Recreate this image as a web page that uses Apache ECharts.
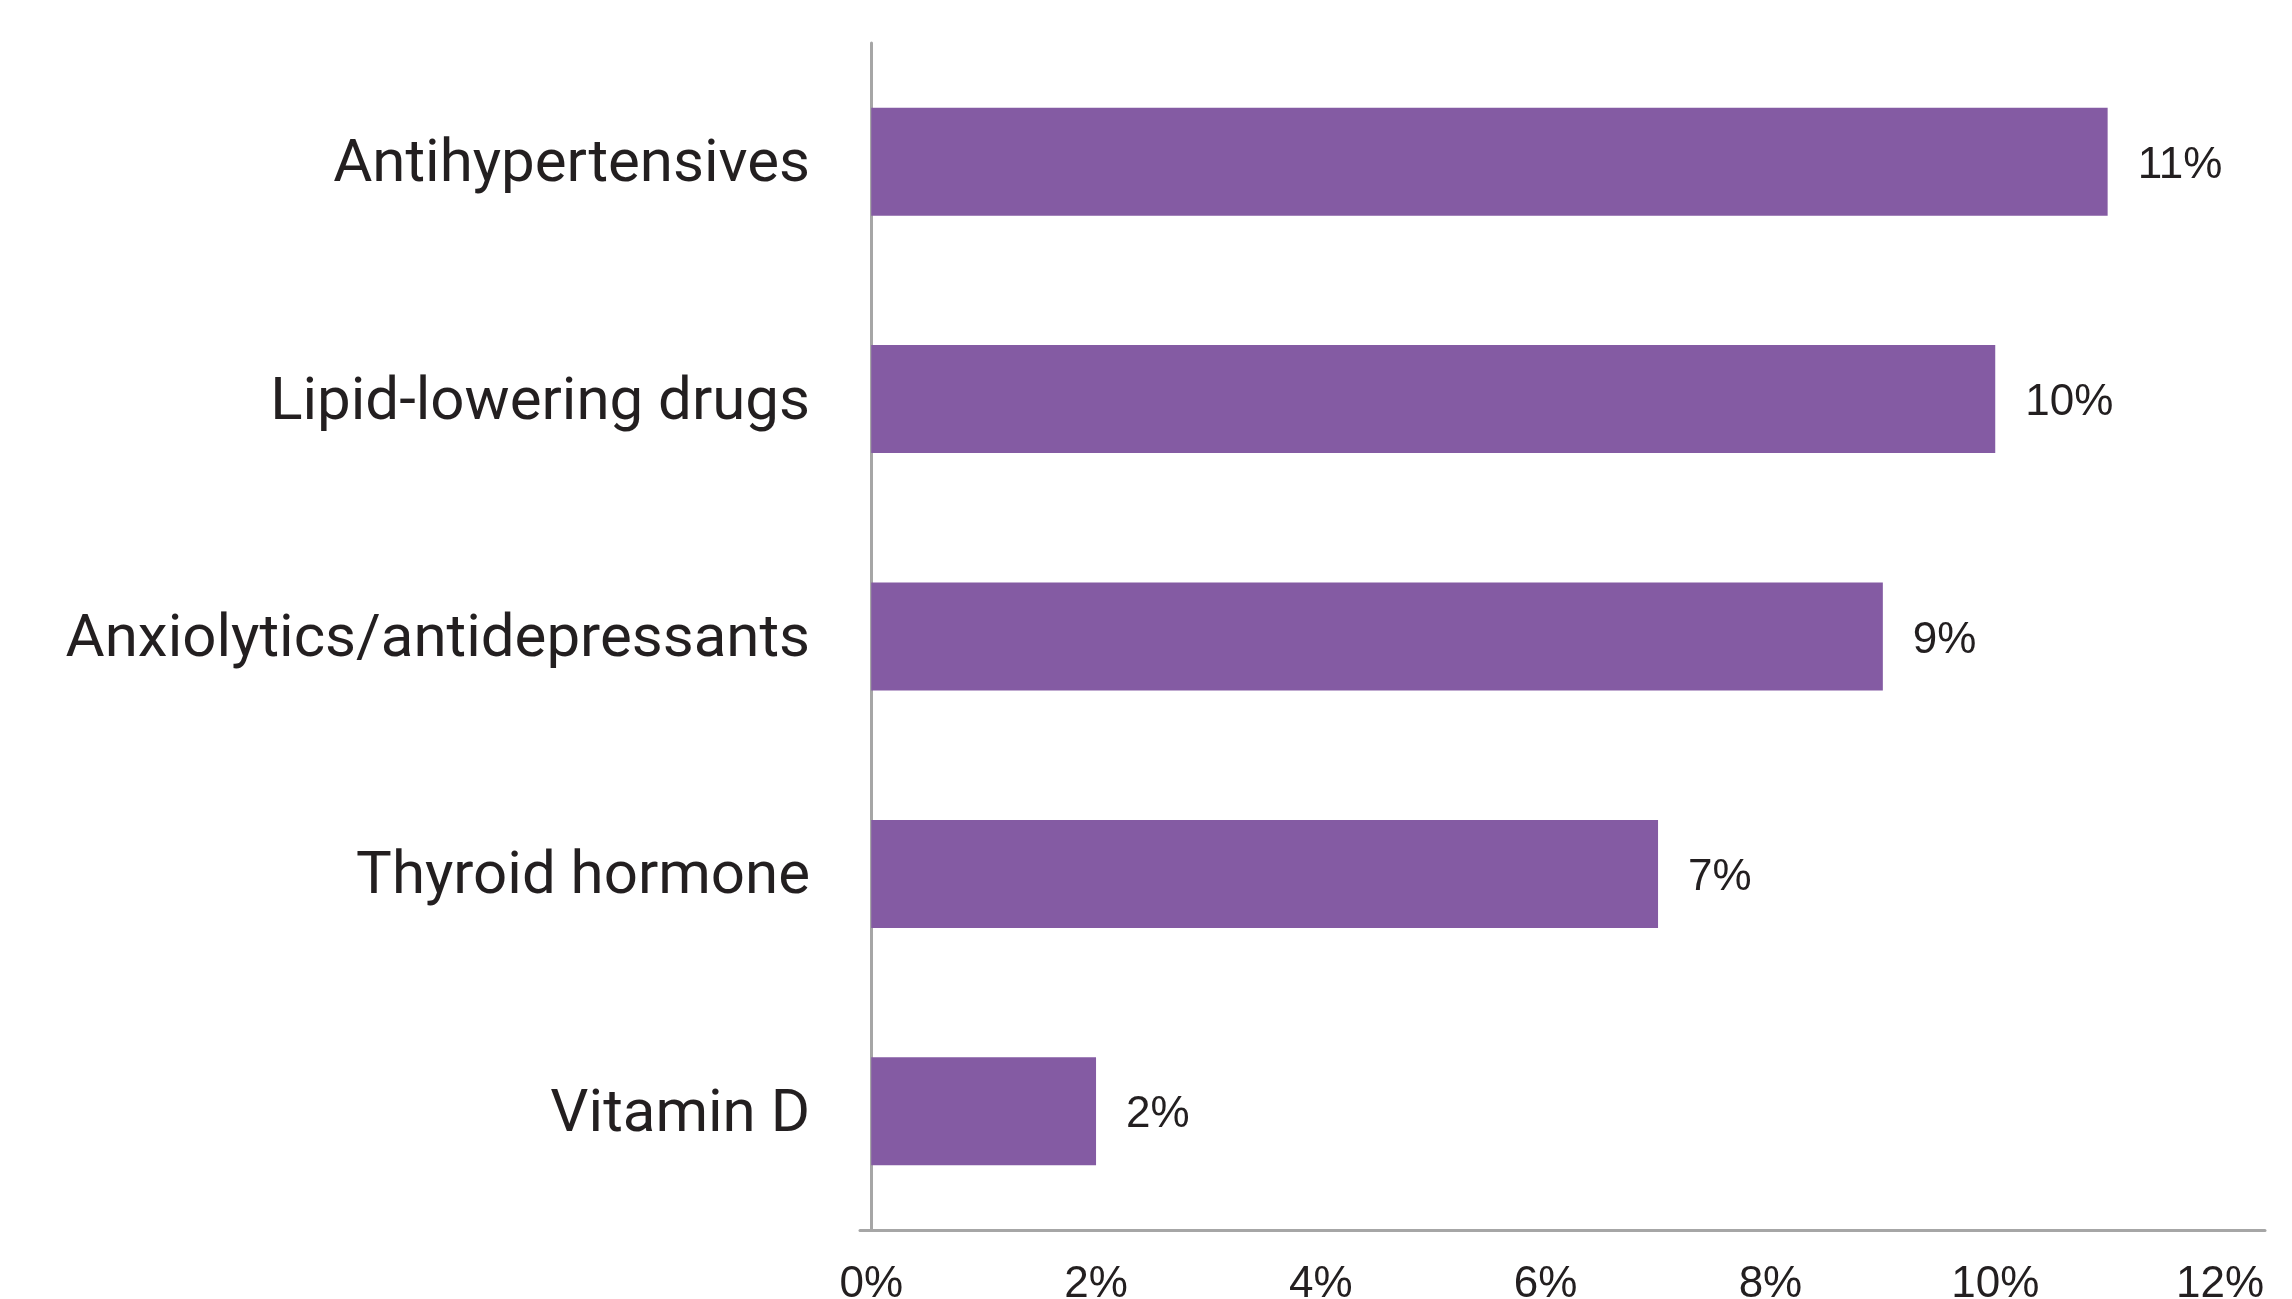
<!DOCTYPE html>
<html>
<head>
<meta charset="utf-8">
<script src="https://cdn.jsdelivr.net/npm/echarts@6/dist/echarts.min.js"></script>
<style>
html,body{margin:0;padding:0;background:#fff;}
#chart{width:2292px;height:1299px;}
</style>
</head>
<body>
<div id="chart"></div>
<script>
const categories = ["Antihypertensives", "Lipid-lowering drugs", "Anxiolytics/antidepressants", "Thyroid hormone", "Vitamin D"];
const values = [11, 10, 9, 7, 2];
const tickValues = [0, 2, 4, 6, 8, 10, 12];

const chart = echarts.init(document.getElementById('chart'));
chart.setOption({
  backgroundColor: '#ffffff',
  animation: false,
  grid: { left: 860, right: 27, top: 43, bottom: 69, containLabel: false, outerBoundsMode: 'none' },
  xAxis: {
    type: 'value',
    min: -0.1,
    max: 12.4,
    splitLine: { show: false },
    axisTick: { show: false },
    axisLine: { show: true, lineStyle: { color: '#a6a6a6', width: 3 } },
    axisLabel: {
      customValues: tickValues,
      formatter: v => v + '%',
      margin: 33,
      fontFamily: 'Liberation Sans',
      fontSize: 44,
      color: '#231f20'
    }
  },
  yAxis: {
    type: 'category',
    data: categories,
    inverse: true,
    axisTick: { show: false },
    axisLine: { show: true, onZero: true, lineStyle: { color: '#a6a6a6', width: 3 } },
    axisLabel: {
      margin: 50,
      formatter: v => '{c|' + v + '}',
      rich: {
        c: {
          padding: [9, 0, 0, 0],
          fontFamily: 'Roboto',
          fontSize: 60,
          color: '#231f20'
        }
      },
      fontFamily: 'Roboto',
      fontSize: 60,
      color: '#231f20'
    }
  },
  series: [{
    type: 'bar',
    data: values,
    barWidth: 108,
    itemStyle: { color: '#845ba3' },
    label: {
      show: true,
      position: 'right',
      distance: 30,
      offset: [0, 4],
      formatter: p => p.value + '%',
      fontFamily: 'Liberation Sans',
      fontSize: 44,
      color: '#231f20'
    }
  }]
});
</script>
</body>
</html>
